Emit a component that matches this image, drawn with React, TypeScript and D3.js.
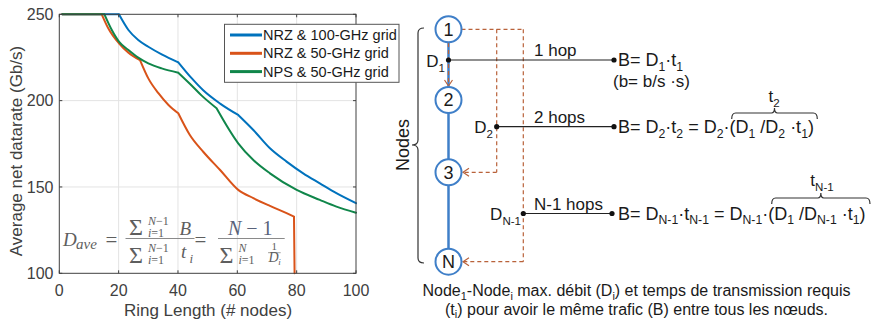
import * as d3 from "d3";

const W = 877;
const H = 322;
const M = { left: 59.3, right: 356, top: 14.3, bottom: 273.3 };

// Series: ring length (# nodes) -> average net datarate (Gb/s)
const nrz100X = [1, 20.1, 23.3, 26.6, 30, 34.5, 40.1, 44.6, 48.5, 54.2, 60.3, 65.4, 71, 76.6, 82.2, 87.8, 93.4, 100];
const nrz100Y = [250, 250, 240.9, 235.1, 231.2, 226.8, 222.2, 213, 206, 198.3, 191.7, 183, 172.4, 164.7, 157.9, 152.1, 146.4, 140.6];
const nrz100Kinks = [20.1, 40.1, 60.3];
const nrz50X = [1, 14.3, 16.5, 20.1, 23.3, 27.2, 30, 33.4, 36.8, 40.1, 44, 48.5, 54.2, 60.3, 65.4, 71, 76.6, 79.1, 79.3];
const nrz50Y = [250, 250, 241.9, 233.2, 227.8, 223.5, 212.9, 204.3, 197.5, 192.7, 180.1, 170.4, 159.8, 148.3, 143.5, 139, 134.8, 132.8, 100];
const nrz50Kinks = [14.3, 27.2, 40.1, 79.1];
const nps50X = [1, 15.2, 17.7, 20.1, 23.3, 26.6, 30, 34.5, 40.1, 44, 48, 53, 60.3, 65.4, 71, 80, 87.8, 93.4, 100];
const nps50Y = [250, 250, 240.9, 234.2, 229.3, 224.9, 221.6, 218.7, 216.2, 209.8, 202.9, 195.6, 175.3, 165.6, 157.9, 148.3, 142.5, 138.6, 135.1];
const nps50Kinks = [15.2, 40.1, 53];

const SERIES = [
  { label: "NRZ & 100-GHz grid", color: "#0072bd", xs: nrz100X, ys: nrz100Y, kinks: nrz100Kinks },
  { label: "NRZ & 50-GHz grid", color: "#d95319", xs: nrz50X, ys: nrz50Y, kinks: nrz50Kinks },
  { label: "NPS & 50-GHz grid", color: "#10864a", xs: nps50X, ys: nps50Y, kinks: nps50Kinks },
];

const xTicks = [0, 20, 40, 60, 80, 100];
const yTicks = [100, 150, 200, 250];
const xGrid = [20, 40, 60, 80];
const yGrid = [150, 200];

const SANS = "'Liberation Sans', Arial, sans-serif";
const SERIF = "'Liberation Serif', 'Times New Roman', serif";
const AXIS = "#404040";
const NODE_BLUE = "#3f7fc8";
const DASH = "#b9623a";
const FORMULA = "#5e5e5e";

type Part = string | { sub: string };

/** Text with subscripts, laid out as tspans. */
function Rich({ x, y, parts, size = 17, anchor = "start", fill = "#1a1a1a", drop = 0.3 }: {
  x: number; y: number; parts: Part[]; size?: number; anchor?: string; fill?: string; drop?: number;
}) {
  const shift = size * drop;
  return (
    <text x={x} y={y} fontSize={size} textAnchor={anchor} fill={fill} fontFamily={SANS}>
      {parts.map((p, i) => {
        const prevSub = i > 0 && typeof parts[i - 1] !== "string";
        if (typeof p === "string") {
          return <tspan key={i} dy={prevSub ? -shift : 0}>{p}</tspan>;
        }
        return (
          <tspan key={i} dy={prevSub ? 0 : shift} fontSize={size * 0.68}>{p.sub}</tspan>
        );
      })}
    </text>
  );
}

/** Split a series into smooth pieces at its kinks so the spline keeps them sharp. */
function pieces(xs: number[], ys: number[], kinks: number[]) {
  const out: [number, number][][] = [];
  let cur: [number, number][] = [];
  xs.forEach((xv, i) => {
    cur.push([xv, ys[i]]);
    if (kinks.includes(xv) && cur.length > 1) {
      out.push(cur);
      cur = [[xv, ys[i]]];
    }
  });
  if (cur.length > 1) out.push(cur);
  return out;
}

function Plot() {
  const x = d3.scaleLinear().domain([0, 100]).range([M.left, M.right]);
  const y = d3.scaleLinear().domain([100, 250]).range([M.bottom, M.top]);
  const line = d3
    .line<[number, number]>()
    .x((d) => x(d[0]))
    .y((d) => y(d[1]))
    .curve(d3.curveMonotoneX);

  return (
    <g>
      {xGrid.map((v) => (
        <line key={`gx${v}`} x1={x(v)} x2={x(v)} y1={M.top} y2={M.bottom} stroke="#e3e3e3" />
      ))}
      {yGrid.map((v) => (
        <line key={`gy${v}`} x1={M.left} x2={M.right} y1={y(v)} y2={y(v)} stroke="#e3e3e3" />
      ))}

      {/* Formula overlay */}
      <g fontFamily={SERIF} fill={FORMULA}>
        <text x={63} y={246} fontSize={19} fontStyle="italic">D</text>
        <text x={76} y={248.5} fontSize={15} fontStyle="italic">ave</text>
        <text x={105.5} y={247} fontSize={21}>=</text>
        <line x1={125.5} x2={194.5} y1={238.5} y2={238.5} stroke="#8a8a8a" strokeWidth={1} />
        <text x={129} y={235} fontSize={24}>Σ</text>
        <text x={148} y={225} fontSize={12}><tspan fontStyle="italic">N</tspan>−1</text>
        <text x={148} y={236.5} fontSize={12}><tspan fontStyle="italic">i</tspan>=1</text>
        <text x={179.5} y={235} fontSize={19} fontStyle="italic">B</text>
        <text x={129} y={263} fontSize={24}>Σ</text>
        <text x={148} y={251.5} fontSize={12}><tspan fontStyle="italic">N</tspan>−1</text>
        <text x={148} y={264} fontSize={12}><tspan fontStyle="italic">i</tspan>=1</text>
        <text x={181} y={258} fontSize={19} fontStyle="italic">t</text>
        <text x={189.5} y={262.5} fontSize={13} fontStyle="italic">i</text>
        <text x={194.5} y={247} fontSize={21}>=</text>
        <line x1={218} x2={284.7} y1={238.5} y2={238.5} stroke="#8a8a8a" strokeWidth={1} />
        <text x={228} y={235} fontSize={20} fill="#59627a"><tspan fontStyle="italic">N</tspan> − 1</text>
        <text x={219.5} y={263} fontSize={24}>Σ</text>
        <text x={238.5} y={251.5} fontSize={12} fontStyle="italic">N</text>
        <text x={238.5} y={264} fontSize={12}><tspan fontStyle="italic">i</tspan>=1</text>
        <text x={274.3} y={250} fontSize={11} textAnchor="middle">1</text>
        <line x1={268} x2={280.7} y1={252.7} y2={252.7} stroke="#8a8a8a" strokeWidth={0.8} />
        <text x={268.5} y={262} fontSize={14} fontStyle="italic">D</text>
        <text x={278.3} y={265} fontSize={9} fontStyle="italic">i</text>
      </g>

      {SERIES.map((s) => (
        <path
          key={s.label}
          d={pieces(s.xs, s.ys, s.kinks).map((p) => line(p) ?? "").join("")}
          fill="none"
          stroke={s.color}
          strokeWidth={2}
          strokeLinecap="round"
          strokeLinejoin="round"
        />
      ))}

      {/* Box and inward ticks */}
      <rect x={M.left} y={M.top} width={M.right - M.left} height={M.bottom - M.top} fill="none" stroke={AXIS} strokeWidth={1} />
      {xTicks.map((v) => (
        <g key={`tx${v}`}>
          <line x1={x(v)} x2={x(v)} y1={M.bottom} y2={M.bottom - 3} stroke={AXIS} />
          <line x1={x(v)} x2={x(v)} y1={M.top} y2={M.top + 3} stroke={AXIS} />
          <text x={x(v)} y={296} fontSize={16} textAnchor="middle" fill={AXIS} fontFamily={SANS}>{v}</text>
        </g>
      ))}
      {yTicks.map((v) => (
        <g key={`ty${v}`}>
          <line x1={M.left} x2={M.left + 3} y1={y(v)} y2={y(v)} stroke={AXIS} />
          <line x1={M.right} x2={M.right - 3} y1={y(v)} y2={y(v)} stroke={AXIS} />
          <text x={53.5} y={y(v)} dy="0.36em" fontSize={16} textAnchor="end" fill={AXIS} fontFamily={SANS}>{v}</text>
        </g>
      ))}
      <text x={208} y={316} fontSize={17} textAnchor="middle" fill={AXIS} fontFamily={SANS}>Ring Length (# nodes)</text>
      <text transform="translate(22,151) rotate(-90)" fontSize={17} textAnchor="middle" fill={AXIS} fontFamily={SANS}>
        Average net datarate (Gb/s)
      </text>

      {/* Legend */}
      <rect x={224.5} y={24.3} width={174.5} height={58} fill="#fff" stroke="#555" strokeWidth={1} />
      {SERIES.map((s, i) => (
        <g key={`lg${i}`}>
          <line x1={230} x2={262} y1={35 + i * 18.3} y2={35 + i * 18.3} stroke={s.color} strokeWidth={3} />
          <text x={263} y={35 + i * 18.3} dy="0.35em" fontSize={14.5} fill="#1a1a1a" fontFamily={SANS}>{s.label}</text>
        </g>
      ))}
    </g>
  );
}

const NODES = [
  { label: "1", cy: 29.3 },
  { label: "2", cy: 100 },
  { label: "3", cy: 172.3 },
  { label: "N", cy: 261.7 },
];

function brace(x1: number, x2: number, y: number) {
  const mid = (x1 + x2) / 2;
  return `M${x1},${y + 6} Q${x1},${y} ${x1 + 4},${y} L${mid - 3},${y} Q${mid},${y} ${mid},${y - 5} Q${mid},${y} ${mid + 3},${y} L${x2 - 4},${y} Q${x2},${y} ${x2},${y + 6}`;
}

function Diagram() {
  const nx = 448.5;
  const r = 13;
  return (
    <g fontFamily={SANS}>
      {/* Nodes bracket */}
      <path
        d="M424,28 Q418,28 418,33 L418,140 Q418,145 412,145 Q418,145 418,150 L418,258 Q418,263 424,263"
        fill="none"
        stroke="#333"
        strokeWidth={1.2}
      />
      <text transform="translate(409,145) rotate(-90)" fontSize={18} textAnchor="middle" fill="#1a1a1a">Nodes</text>

      {/* ring backbone */}
      <line x1={nx} x2={nx} y1={NODES[0].cy} y2={NODES[3].cy} stroke={NODE_BLUE} strokeWidth={2.5} />

      {/* dashed routes */}
      <g stroke={DASH} strokeWidth={1.2} strokeDasharray="4,3" fill="none">
        <line x1={nx} x2={nx} y1={43} y2={85} />
        <line x1={nx + r} x2={523.3} y1={29.3} y2={29.3} />
        <line x1={496.7} x2={496.7} y1={29.3} y2={172.3} />
        <line x1={496.7} x2={463} y1={172.3} y2={172.3} />
        <line x1={523.3} x2={523.3} y1={29.3} y2={261.7} />
        <line x1={523.3} x2={463} y1={261.7} y2={261.7} />
      </g>
      <g stroke={DASH} strokeWidth={1.2} fill="none">
        <path d={`M${nx - 4},80 L${nx},86 L${nx + 4},80`} />
        <path d="M469,168.3 L463,172.3 L469,176.3" />
        <path d="M469,257.7 L463,261.7 L469,265.7" />
      </g>

      {NODES.map((n) => (
        <g key={n.label}>
          <circle cx={nx} cy={n.cy} r={r} fill="#fff" stroke={NODE_BLUE} strokeWidth={2} />
          <text x={nx} y={n.cy} dy="0.36em" fontSize={18} textAnchor="middle" fill="#1a1a1a">{n.label}</text>
        </g>
      ))}

      {/* hop lines */}
      <g stroke="#222" strokeWidth={1.2}>
        <line x1={nx} x2={614} y1={60} y2={60} />
        <line x1={496.7} x2={614} y1={126.7} y2={126.7} />
        <line x1={523.3} x2={612} y1={213.5} y2={213.5} />
      </g>
      <g fill="#111">
        <circle cx={nx} cy={60} r={2.6} />
        <circle cx={614} cy={60} r={2.6} />
        <circle cx={496.7} cy={126.7} r={2.6} />
        <circle cx={614} cy={126.7} r={2.6} />
        <circle cx={523.3} cy={213.5} r={2.6} />
        <circle cx={612} cy={213.5} r={2.6} />
      </g>
      <text x={534} y={55.5} fontSize={17} fill="#1a1a1a">1 hop</text>
      <text x={534} y={122.5} fontSize={17} fill="#1a1a1a">2 hops</text>
      <text x={534} y={209.5} fontSize={17} fill="#1a1a1a">N-1 hops</text>

      <Rich x={445} y={66.5} anchor="end" parts={["D", { sub: "1" }]} />
      <Rich x={493} y={132.5} anchor="end" parts={["D", { sub: "2" }]} />
      <Rich x={521} y={219.5} anchor="end" parts={["D", { sub: "N-1" }]} />

      <Rich x={618} y={66} size={18} drop={0.25} parts={["B= D", { sub: "1" }, "·t", { sub: "1" }]} />
      <Rich x={613} y={87} size={17} parts={["(b= b/s ·s)"]} />
      <Rich
        x={618}
        y={133}
        size={18}
        drop={0.25}
        parts={["B= D", { sub: "2" }, "·t", { sub: "2" }, " = D", { sub: "2" }, "·(D", { sub: "1" }, " /D", { sub: "2" }, " ·t", { sub: "1" }, ")"]}
      />
      <Rich
        x={618}
        y={219.5}
        size={18}
        drop={0.25}
        parts={["B= D", { sub: "N-1" }, "·t", { sub: "N-1" }, " = D", { sub: "N-1" }, "·(D", { sub: "1" }, " /D", { sub: "N-1" }, " ·t", { sub: "1" }, ")"]}
      />

      <path d={brace(731.7, 817.3, 113)} fill="none" stroke="#333" strokeWidth={1.2} />
      <Rich x={774} y={102} anchor="middle" parts={["t", { sub: "2" }]} />
      <path d={brace(771.7, 870, 198)} fill="none" stroke="#333" strokeWidth={1.2} />
      <Rich x={822} y={186} anchor="middle" parts={["t", { sub: "N-1" }]} />

      <Rich
        x={636.5}
        y={295.5}
        size={16}
        drop={0.25}
        anchor="middle"
        parts={["Node", { sub: "1" }, "-Node", { sub: "i" }, " max. débit (D", { sub: "i" }, ") et temps de transmission requis"]}
      />
      <Rich
        x={636.5}
        y={314.5}
        size={16}
        drop={0.22}
        anchor="middle"
        parts={["(t", { sub: "i" }, ") pour avoir le même trafic (B) entre tous les nœuds."]}
      />
    </g>
  );
}

export default function App() {
  return (
    <>
      <style>{`body{margin:0;background:#fff}`}</style>
      <svg width={W} height={H} viewBox={`0 0 ${W} ${H}`} style={{ display: "block" }}>
        <rect width={W} height={H} fill="#fff" />
        <Plot />
        <Diagram />
      </svg>
    </>
  );
}
